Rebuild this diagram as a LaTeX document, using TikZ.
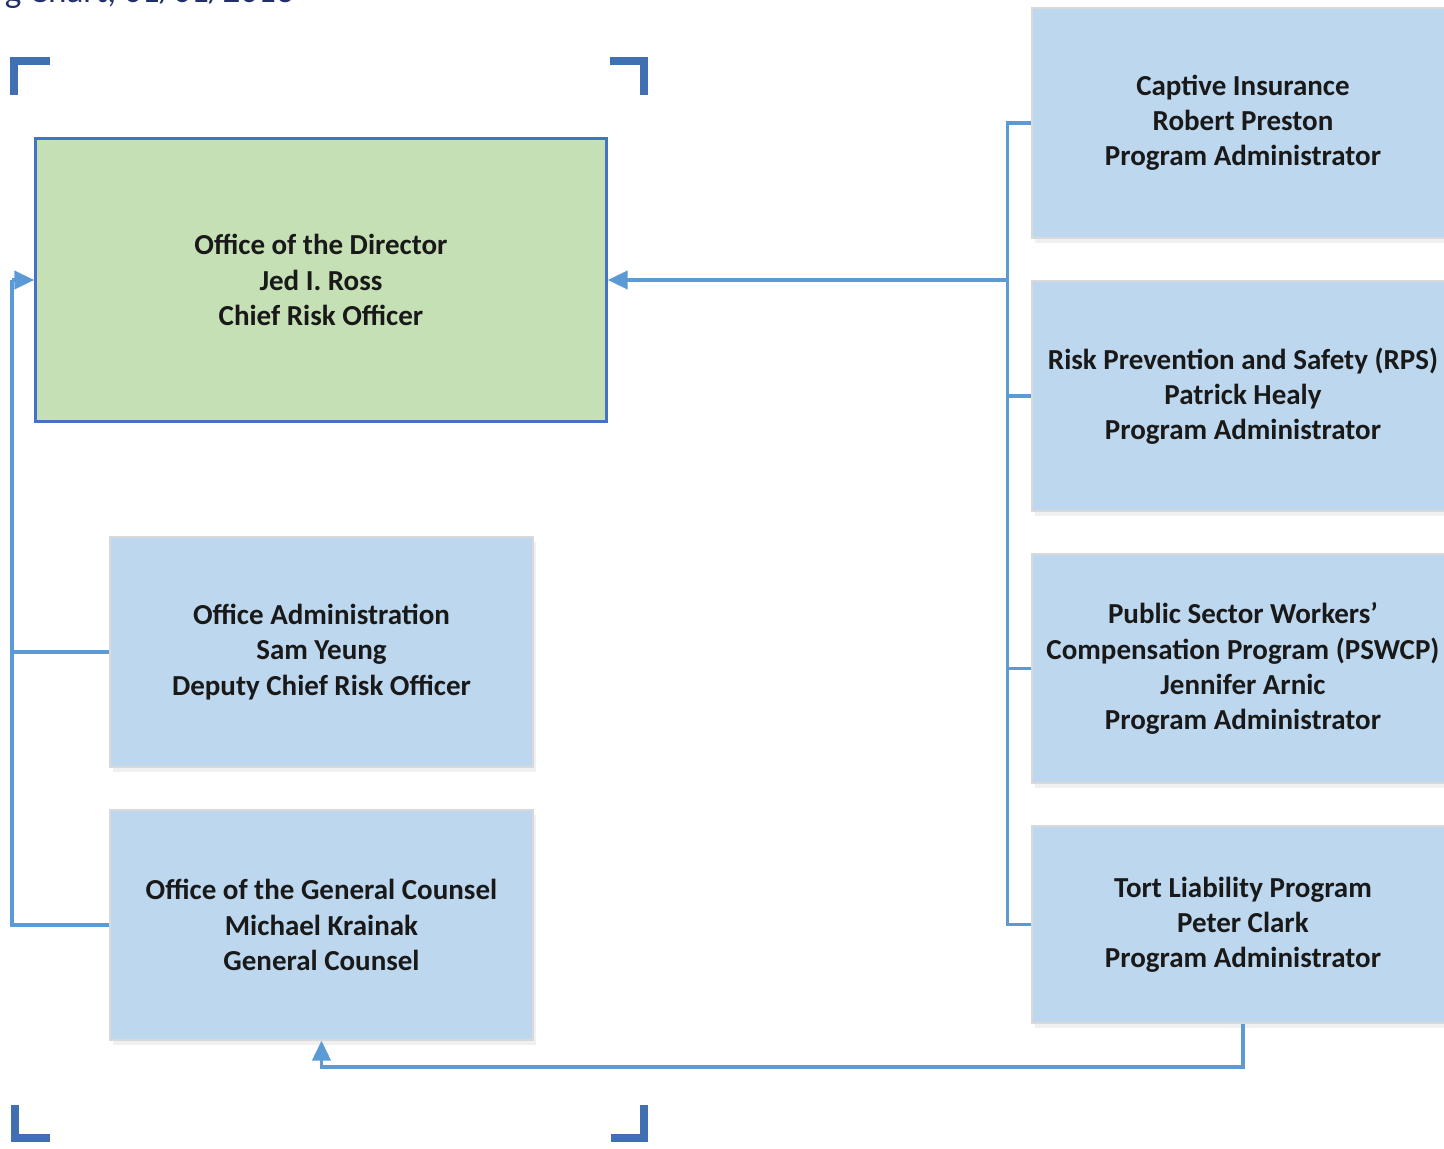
\documentclass[tikz,border=0pt]{standalone}
\usepackage{fontspec}
\setmainfont{Carlito}
\usetikzlibrary{arrows.meta, positioning, calc, shadows}
\definecolor{garisbiru}{RGB}{91,155,213}
\definecolor{kotakbiru}{RGB}{189,215,238}
\definecolor{kotakhijau}{RGB}{197,224,180}
\definecolor{bingkai}{RGB}{68,114,196}
\definecolor{sudut}{RGB}{64,112,178}
\definecolor{judul}{RGB}{34,48,104}

\begin{document}
\begin{tikzpicture}[
        every node/.style={font=\fontsize{16.5}{20}\selectfont\bfseries, text=black!90},
        unit/.style={rectangle, fill=kotakbiru, draw=gray!30, line width=0.6pt,
                     minimum width=8.44cm, minimum height=4.6cm, align=center,
                     inner sep=0pt,
                     drop shadow={shadow xshift=1.5pt, shadow yshift=-3pt, opacity=0.12}},
        dirbox/.style={rectangle, fill=kotakhijau, draw=bingkai, line width=1.3pt,
                       minimum width=11.42cm, minimum height=5.66cm, align=center,
                       inner sep=0pt},
        conn/.style={garisbiru, line width=2.2pt},
        arr/.style={conn, -{Triangle[length=4mm,width=3.6mm]}},
        corner/.style={sudut, line width=0.16cm}
    ]
        \useasboundingbox (0,0) rectangle (28.88,-22.98);

        \node[font=\fontsize{20}{24}\selectfont, text=judul, anchor=base east] (title)
            at (6.0,-0.06) {Org Chart, 01/01/2013};

        % corner marks
        \draw[corner] (0.28,-1.9) -- (0.28,-1.22) -- (1.0,-1.22);
        \draw[corner] (12.2,-1.23) -- (12.88,-1.23) -- (12.88,-1.9);
        \draw[corner] (0.3,-22.1) -- (0.3,-22.76) -- (1.0,-22.76);
        \draw[corner] (12.22,-22.76) -- (12.88,-22.76) -- (12.88,-22.1);

        \node[dirbox] (dir) at (6.42,-5.6) {Office of the Director\\Jed I. Ross\\Chief Risk Officer};
        \node[unit, minimum width=8.46cm] (adm) at (6.43,-13.04)
            {Office Administration\\Sam Yeung\\Deputy Chief Risk Officer};
        \node[unit, minimum width=8.46cm] (gc) at (6.43,-18.5)
            {Office of the General Counsel\\Michael Krainak\\General Counsel};

        \node[unit] (cap) at (24.86,-2.46) {Captive Insurance\\Robert Preston\\Program Administrator};
        \node[unit] (rps) at (24.86,-7.92)
            {Risk Prevention and Safety (RPS)\\Patrick Healy\\Program Administrator};
        \node[unit, minimum height=4.58cm] (pswcp) at (24.86,-13.37)
            {Public Sector Workers'\\Compensation Program (PSWCP)\\Jennifer Arnic\\Program Administrator};
        \node[unit, minimum height=3.94cm] (tort) at (24.86,-18.49)
            {Tort Liability Program\\Peter Clark\\Program Administrator};

        \coordinate (rbus) at (20.16,-5.6);
        \coordinate (lbus) at (0.24,-5.6);
        \coordinate (bot)  at (6.43,-21.34);

        \foreach \b in {cap,rps,pswcp,tort}
            \draw[conn] (\b.west) -- ++(-0.48,0) |- (rbus);
        \draw[arr] (rbus) -- (dir.east);

        \foreach \b in {adm,gc}
            \draw[conn] (\b.west) -| (lbus);
        \draw[arr] (lbus) -- (dir.west);

        \draw[arr] (tort.south) |- (bot) -- (gc.south);
\end{tikzpicture}
\end{document}
